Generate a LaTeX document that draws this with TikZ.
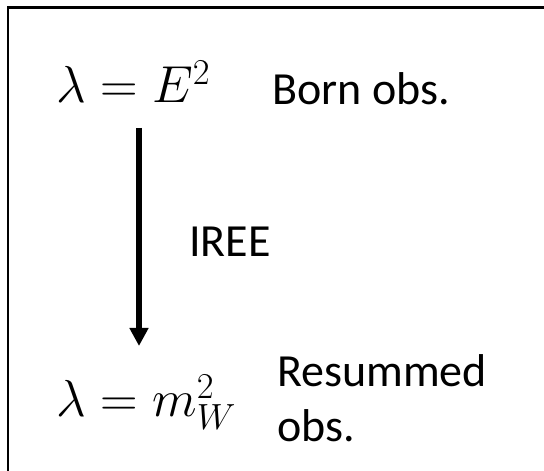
\documentclass[tikz,border=0pt]{standalone}
\usepackage{fix-cm}
\usepackage{fontspec}
\setmainfont{Carlito}
\usepackage{tikz}
\usetikzlibrary{arrows.meta}

\begin{document}
\begin{tikzpicture}[x=1pt,y=1pt,
  lbl/.style={font=\fontsize{46}{55}\selectfont, inner sep=0pt, anchor=base west},
  eq/.style={font=\fontsize{52}{60}\selectfont, inner sep=0pt, anchor=base west},
  flow/.style={line width=6pt, -{Triangle[length=18pt,width=18pt]}},
]
  \useasboundingbox (0,0) rectangle (544,471);
  \clip (0,0) rectangle (544,471);
  % frame
  \draw[line width=2.7pt] (8,-20) rectangle (570,463.5);

  % top
  \node[eq] (born) at (56,368) {$\lambda = E^2$};
  \node[lbl] (bornlbl) at (272,366) {Born obs.};

  % bottom
  \node[eq] (res) at (56,54) {$\lambda = m_W^2$};
  \node[lbl] (reslbl) at (277,84) {Resummed};
  \node[lbl] (reslbl2) at (277,29) {obs.};

  % evolution
  \coordinate (from) at (139,343);
  \coordinate (to) at (139,125);
  \draw[flow] (from) -- (to);
  \node[lbl] (iree) at (189,214) {IREE};
\end{tikzpicture}
\end{document}
